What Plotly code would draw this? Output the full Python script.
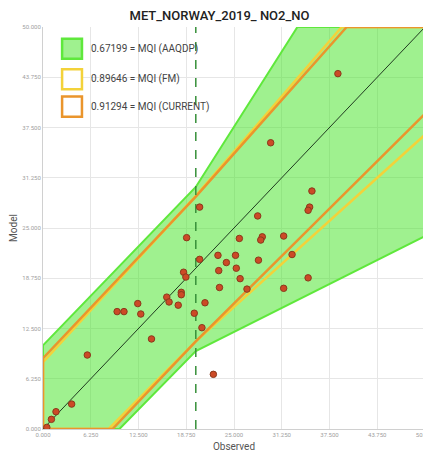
import plotly.graph_objects as go

# ---- data ----
observed = [0.5, 1.1, 1.7, 3.75, 5.8, 9.7, 10.6, 12.4, 12.8, 14.2, 16.2, 16.5, 17.7, 18.1, 18.1,
            19.8, 20.8, 21.2, 22.3, 20.5, 28.1, 35.2, 34.9, 34.7, 18.8, 25.7, 28.7, 28.5, 31.5,
            22.9, 25.2, 20.5, 24.0, 32.6, 28.2, 23.0, 25.3, 18.4, 18.7, 25.8, 34.7, 23.1, 26.7,
            31.5, 38.6, 29.8]
modelled = [0.2, 1.2, 2.15, 3.1, 9.2, 14.6, 14.6, 15.6, 14.3, 11.2, 16.4, 15.8, 15.4, 17.0, 16.7,
            14.4, 12.6, 15.7, 6.8, 27.6, 26.5, 29.6, 27.6, 27.2, 23.8, 23.7, 23.9, 23.5, 24.0,
            21.6, 21.6, 21.1, 20.7, 21.7, 21.0, 19.7, 20.0, 19.5, 18.9, 18.7, 18.8, 17.6, 17.4,
            17.5, 44.2, 35.6]

aaqdp_x = [0, 0, 20, 33.3, 50, 50, 20, 10, 0]
aaqdp_y = [0, 10.4, 30.1, 50, 50, 24, 9.7, 0, 0]
fm_x = [0, 0, 20, 39.1, 50, 50, 20, 8.6, 0]
fm_y = [0, 8.3, 29.0, 50, 50, 36.6, 10.9, 0, 0]
current_x = [0, 0, 20, 39.75, 50, 50, 20, 9.1, 0]
current_y = [0, 8.8, 28.9, 50, 50, 39.2, 10.9, 0, 0]

identity = [0, 50]
limit_value = 20
axis_ticks = [0, 6.25, 12.5, 18.75, 25, 31.25, 37.5, 43.75, 50]

legend_labels = ["0.67199 = MQI (AAQDP)", "0.89646 = MQI (FM)", "0.91294 = MQI (CURRENT)"]

GREEN_LINE = "#5fe83c"
GREEN_FILL = "rgba(70,228,40,0.52)"
YELLOW = "#f3d23a"
ORANGE = "#ea952c"

fig = go.Figure()
fig.add_trace(go.Scatter(x=aaqdp_x, y=aaqdp_y, mode="lines", fill="toself",
                         fillcolor=GREEN_FILL, line=dict(color=GREEN_LINE, width=2),
                         hoverinfo="skip", showlegend=False))
fig.add_trace(go.Scatter(x=fm_x, y=fm_y, mode="lines",
                         line=dict(color=YELLOW, width=2.5), hoverinfo="skip", showlegend=False))
fig.add_trace(go.Scatter(x=current_x, y=current_y, mode="lines",
                         line=dict(color=ORANGE, width=2.5), hoverinfo="skip", showlegend=False))
fig.add_trace(go.Scatter(x=identity, y=identity, mode="lines",
                         line=dict(color="#1f3a1f", width=1), showlegend=False))
fig.add_trace(go.Scatter(x=[limit_value, limit_value], y=[identity[0], identity[1]], mode="lines",
                         line=dict(color="#37903a", width=1.5, dash="dash"), showlegend=False))
fig.add_trace(go.Scatter(x=observed, y=modelled, mode="markers",
                         marker=dict(size=6.5, color="#cc4a26", line=dict(color="#8a3a1c", width=1)),
                         showlegend=False))

# manual legend (top-left, inside plot)
legend_styles = [(GREEN_FILL, GREEN_LINE), ("white", YELLOW), ("white", ORANGE)]
sw_x0, sw_w = 0.05, 0.052
rows = [0.946, 0.870, 0.802]
sw_h = 0.05
for lab, (fc, lc), yc in zip(legend_labels, legend_styles, rows):
    fig.add_shape(type="rect", xref="paper", yref="paper",
                  x0=sw_x0, x1=sw_x0 + sw_w, y0=yc - sw_h / 2, y1=yc + sw_h / 2,
                  fillcolor=fc, line=dict(color=lc, width=2.5), layer="above")
    fig.add_annotation(xref="paper", yref="paper", x=sw_x0 + sw_w + 0.018, y=yc,
                       text=lab, showarrow=False, xanchor="left", yanchor="middle",
                       font=dict(family="Roboto, sans-serif", size=10, color="#444444"))

# page body has an 8px margin, so the figure is sized to fit the 431x453 window
fig.update_layout(
    width=423, height=445,
    margin=dict(l=35, r=6, t=19, b=24),
    paper_bgcolor="white", plot_bgcolor="white",
    title=dict(text="MET_NORWAY_2019_ NO2_NO", x=0.5, xanchor="center",
               y=0.983, yanchor="middle",
               font=dict(family="Roboto, sans-serif", size=13, color="#222222", weight=500)),
    font=dict(family="Roboto, sans-serif"),
)
axis_common = dict(range=[0, 50], tickvals=axis_ticks, tickformat=".3f",
                   tickfont=dict(size=6, color="#a0a0a0"), showgrid=True, gridcolor="#e6e6e6",
                   gridwidth=1, zeroline=False, showline=True, linecolor="#d0d0d0", linewidth=1,
                   ticks="", fixedrange=True, ticklabeloverflow="allow", automargin=False)
fig.update_xaxes(**axis_common, title=dict(text="Observed", standoff=5,
                 font=dict(size=10, color="#555555")))
fig.update_yaxes(**axis_common, title=dict(text="Model", standoff=3,
                 font=dict(size=10, color="#555555")))

fig.write_html("out.html")
